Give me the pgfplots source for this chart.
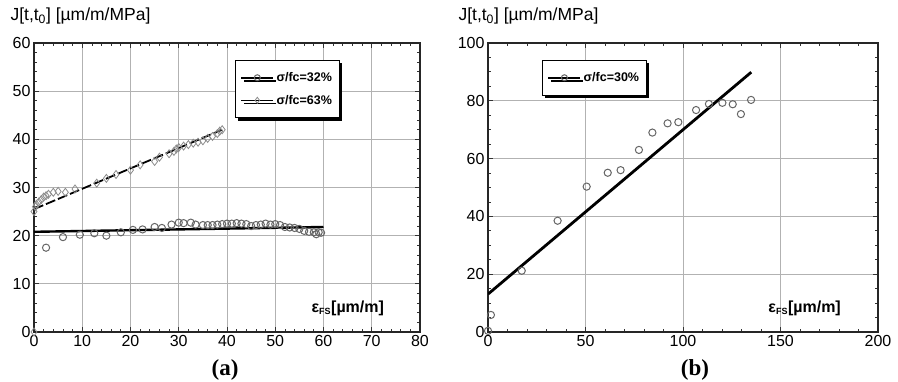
\documentclass[border=0pt]{standalone}
\usepackage{fontspec}
\setmainfont{Liberation Sans}
\newfontfamily\serifb{Liberation Serif}
\usepackage{pgfplots}
\pgfplotsset{compat=1.18}
\usetikzlibrary{shadows}

\pgfplotstableread{
x y
0 20.8
60 21.8
}\fitA
\pgfplotstableread{
x y
0 25.5
39 42.0
}\fitB
\pgfplotstableread{
x y
2.5 17.5
6 19.7
9.5 20.2
12.5 20.5
15 20.0
18 20.7
20.5 21.2
22.5 21.3
25 21.8
26.5 21.6
28.5 22.3
30 22.7
31 22.6
32.5 22.7
33.5 22.3
35 22.2
36 22.2
37 22.2
38 22.3
39 22.4
40 22.5
41 22.5
42 22.6
43 22.5
44 22.4
45 22.0
46 22.2
47 22.3
48 22.5
49 22.3
50 22.4
51 22.2
52 21.8
53 21.7
54 21.6
55 21.4
56 21.0
57 20.8
58 20.7
58.5 20.3
59 20.7
59.5 20.6
}\dataA
\pgfplotstableread{
x y
0 0
0 25
0.3 26
0.5 26.5
1 27
1.5 27.5
2 28
2.5 28.3
3 28.6
4 29
5 29.2
6.5 29
8.5 29.7
13 30.9
15 31.9
17 32.7
20 33.6
22 34.7
25 35.4
26 36.3
28 37.0
29 37.5
29.5 38
30 38.3
31 38.6
32 38.9
33 39.2
34 39.4
35 39.7
36 40.2
37 40.6
38 41.2
38.5 41.7
39 42
}\dataB
\pgfplotstableread{
x y
0 13.1
135 89.9
}\fitC
\pgfplotstableread{
x y
0 0.4
1.5 5.9
17.3 21.2
35.7 38.5
50.6 50.3
61.4 55.1
68 56
77.4 63
84.3 69
92.1 72.2
97.6 72.6
106.7 76.8
113.3 78.9
120.2 79.3
125.5 78.8
129.7 75.4
134.9 80.3
}\dataC

\pgfplotsset{
  myax/.style={
    scale only axis, height=289pt,
    grid=major, major grid style={black!30, line width=0.7pt},
    tick align=inside, xtick pos=both, ytick pos=both,
    major tick length=5pt, minor tick length=3pt,
    every tick/.style={black!80, line width=0.8pt},
    tick label style={font=\fontsize{16}{16}\selectfont},
    /pgf/number format/assume math mode=true,
    axis line style={line width=1.2pt, black!85},
    legend cell align=left,
    legend style={draw=black, line width=0.8pt, fill=white,
      drop shadow={shadow xshift=3pt, shadow yshift=-3pt, fill=black, opacity=1},
      font=\bfseries\fontsize{12.5}{14}\selectfont, inner xsep=5pt, inner ysep=10pt,
      row sep=8pt},
    legend image code/.code={
      \draw[mark repeat=2,mark phase=2] plot coordinates {(0pt,0pt) (16pt,0pt) (32pt,0pt)};},
  },
  mk/.style={only marks, mark=o, mark size=3.6pt, mark options={draw=black!60, line width=1pt, fill=none}},
}

\begin{document}
\begin{tikzpicture}[x=1pt,y=1pt]
\useasboundingbox (0,0) rectangle (898,382);

\begin{axis}[myax, at={(34pt,50pt)}, anchor=south west, width=386pt,
  xmin=0, xmax=80, ymin=0, ymax=60,
  xtick={0,10,...,80}, ytick={0,10,...,60}, minor x tick num=4, minor y tick num=4,
  legend style={at={(axis description cs:0.52,0.941)}, anchor=north west}]
\addlegendimage{black, line width=2.4pt, mark=o, mark size=3pt, mark options={draw=black!60, line width=1pt, solid, fill=none}}
\addlegendentry{σ/fc=32\%}
\addlegendimage{black, line width=1.4pt, mark=diamond, mark size=3pt, mark options={draw=black!45, line width=0.8pt, solid, fill=white}}
\addlegendentry{σ/fc=63\%}
\addplot[mk, forget plot] table {\dataA};
\addplot[black, line width=2.4pt, forget plot] table {\fitA};
\addplot[black, line width=1.8pt, dash pattern=on 10pt off 3pt, forget plot] table {\fitB};
\addplot[only marks, mark=diamond, mark size=4pt, mark options={draw=black!45, line width=0.8pt, fill=white}, forget plot] table {\dataB};
\node[anchor=west, font=\bfseries\fontsize{16}{16}\selectfont] at (axis description cs:0.71,0.083) {ε\textsubscript{\fontsize{9}{9}\selectfont FS}[µm/m]};
\end{axis}

\begin{axis}[myax, at={(488pt,50pt)}, anchor=south west, width=390pt,
  xmin=0, xmax=200, ymin=0, ymax=100,
  xtick={0,50,...,200}, ytick={0,20,...,100}, minor x tick num=4, minor y tick num=3,
  legend style={at={(axis description cs:0.138,0.941)}, anchor=north west}]
\addlegendimage{black, line width=2.4pt, mark=o, mark size=3pt, mark options={draw=black!60, line width=1pt, solid, fill=none}}
\addlegendentry{σ/fc=30\%}
\addplot[black, line width=2.8pt, forget plot] table {\fitC};
\addplot[mk, forget plot] table {\dataC};
\node[anchor=west, font=\bfseries\fontsize{16}{16}\selectfont] at (axis description cs:0.71,0.083) {ε\textsubscript{\fontsize{9}{9}\selectfont FS}[µm/m]};
\end{axis}

\node[anchor=west, font=\fontsize{17.5}{18}\selectfont] at (7,366) {J[t,t\textsubscript{0}] [µm/m/MPa]};
\node[anchor=west, font=\fontsize{17.5}{18}\selectfont] at (455,366) {J[t,t\textsubscript{0}] [µm/m/MPa]};
\node[font=\serifb\bfseries\fontsize{23}{24}\selectfont] at (225,12) {(a)};
\node[font=\serifb\bfseries\fontsize{23}{24}\selectfont] at (695,12) {(b)};
\end{tikzpicture}
\end{document}
